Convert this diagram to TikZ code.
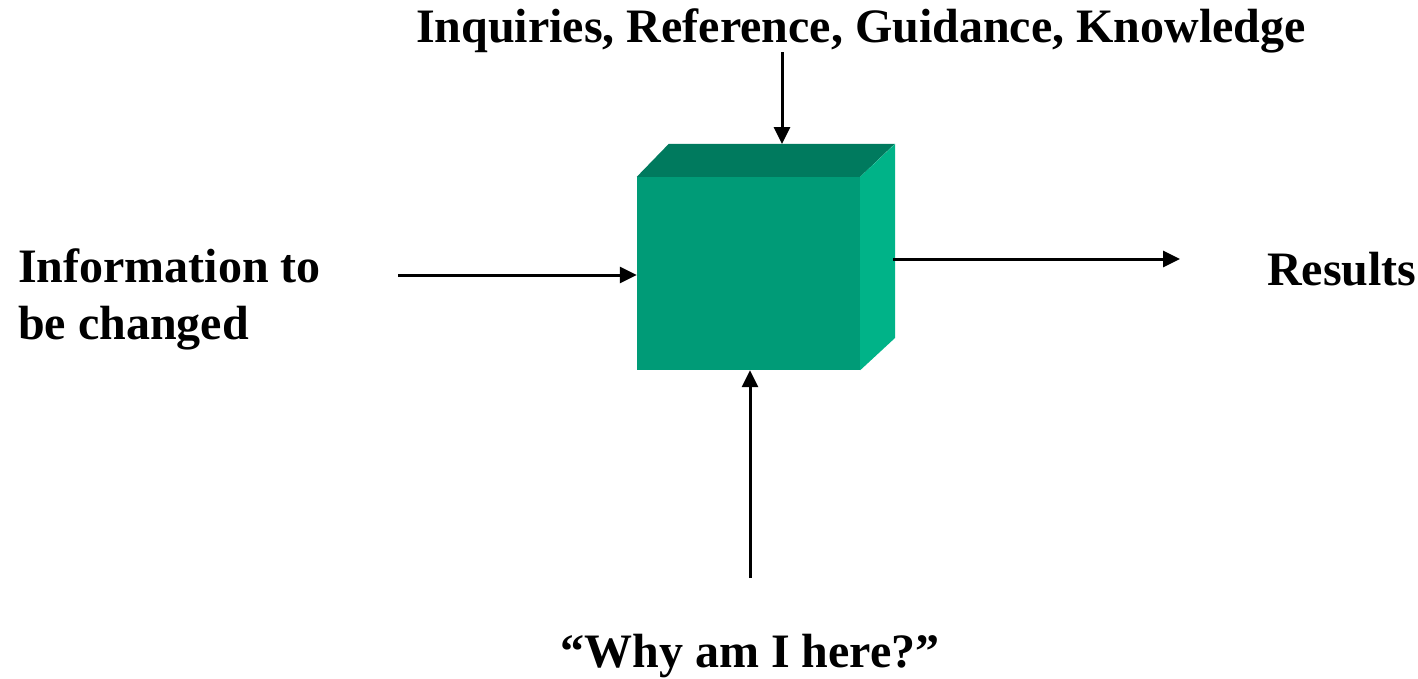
\documentclass[tikz,border=0pt]{standalone}
\usepackage{fontspec}
\setmainfont{Liberation Serif}
\usetikzlibrary{arrows.meta}

\begin{document}
\begin{tikzpicture}[x=1pt,y=-1pt]
\tikzstyle{label} = [font=\fontsize{48}{57}\selectfont\bfseries, inner sep=0pt]
\tikzstyle{front} = [rectangle, fill={rgb,255:red,0;green,155;blue,119},
minimum width=223pt, minimum height=193pt, inner sep=0pt]
\tikzstyle{line} = [draw, line width=3pt, -{Triangle[length=17pt,width=16pt]}];
\useasboundingbox (0,0) rectangle (1418,678);
% the box
\node [front] (box) at (748.5,273.5) {};
\fill [fill={rgb,255:red,0;green,122;blue,94}] (box.north west) -- ++(32,-33)
  -- ++(226,0) -- (box.north east) -- cycle;
\fill [fill={rgb,255:red,0;green,179;blue,136}] (box.north east) -- ++(35,-33)
  -- ++(0,194) -- (box.south east) -- cycle;
% labels
\node [label] (guide) at (861,31) {Inquiries, Reference, Guidance, Knowledge};
\node [label, anchor=west, align=left] (info) at (18,299) {Information to\\be changed};
\node [label, anchor=west] (results) at (1267,269) {Results};
\node [label] (why) at (750,656) {“Why am I here?”};
% ends of the connectors
\coordinate (guideend) at (782,52);
\coordinate (infoend) at (398,275);
\coordinate (resend) at (1180,259);
\coordinate (whyend) at (750,578);
% connectors
\path [line] (guideend) -- (782,144);
\path [line] (infoend) -- (infoend -| box.west);
\path [line] (893,259) -- (resend);
\path [line] (whyend) -- (whyend |- box.south);
\end{tikzpicture}
\end{document}
